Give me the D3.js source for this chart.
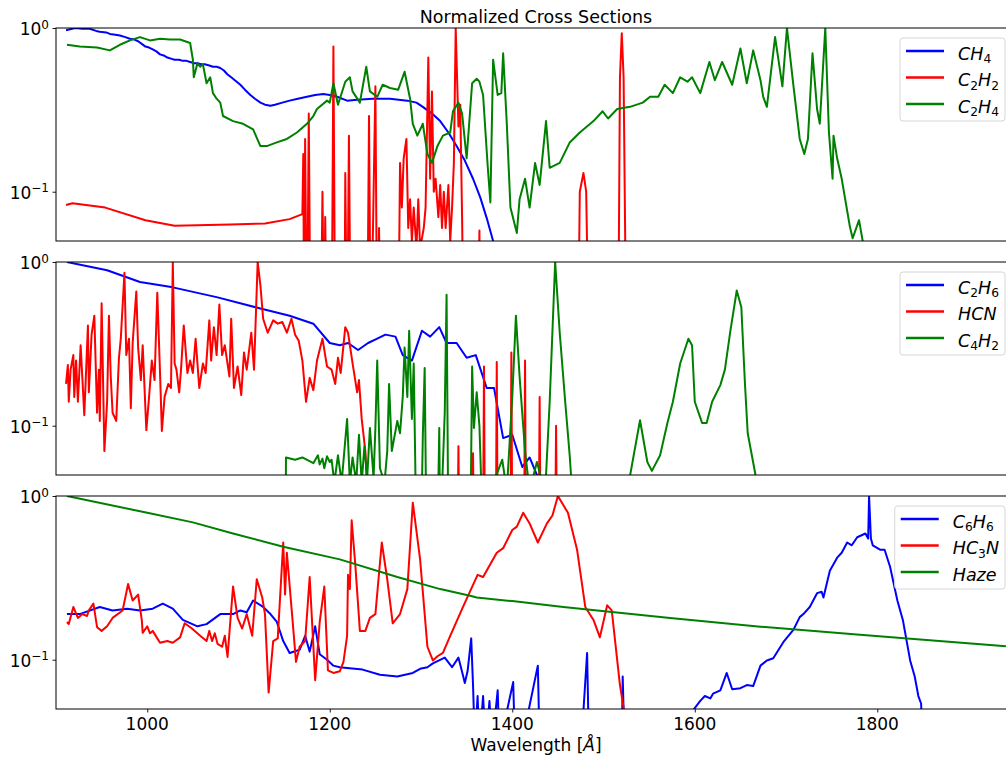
<!DOCTYPE html>
<html><head><meta charset="utf-8">
<script src="https://cdn.jsdelivr.net/npm/d3@7"></script>
<style>
body{margin:0;background:#fff;}
text{font-family:"DejaVu Sans",sans-serif;fill:#000;}
</style>
</head><body>
<svg id="c" width="1006" height="758"></svg>
<script>
// ---------------- DATA ([wavelength Å, normalized cross section]) ----------------
const titleText = "Normalized Cross Sections";
const xLabel = "Wavelength [";
const xTicks = [1000, 1200, 1400, 1600, 1800];
const yTicks = [1, 0.1];
const yTickLabels = [["10","0"],["10","\u22121"]];

const ch4 = [[911,0.97],[921,1.0],[929,0.99],[937,0.99],[944,0.96],[948,0.95],[955,0.94],[959,0.92],[965,0.91],[970,0.90],[976,0.88],[981,0.86],[986,0.85],[990,0.83],[994,0.80],[998,0.77],[1002,0.76],[1006,0.74],[1010,0.72],[1014,0.69],[1018,0.68],[1022,0.66],[1026,0.65],[1030,0.64],[1035,0.64],[1039,0.63],[1043,0.63],[1047,0.62],[1051,0.61],[1055,0.61],[1059,0.60],[1063,0.60],[1068,0.59],[1072,0.58],[1076,0.58],[1080,0.57],[1084,0.55],[1088,0.52],[1092,0.50],[1096,0.48],[1102,0.45],[1107,0.42],[1113,0.39],[1118,0.37],[1124,0.35],[1129,0.34],[1135,0.335],[1140,0.34],[1148,0.35],[1156,0.36],[1165,0.37],[1175,0.38],[1184,0.39],[1193,0.395],[1200,0.39],[1208,0.38],[1219,0.36],[1230,0.365],[1247,0.37],[1266,0.37],[1285,0.36],[1295,0.35],[1302,0.33],[1312,0.30],[1321,0.27],[1330,0.23],[1339,0.19],[1348,0.155],[1357,0.12],[1365,0.092],[1372,0.069],[1379,0.05],[1390,0.03],[1398,0.02]];

const c2h2 = [[911,0.083],[918,0.085],[954,0.080],[998,0.067],[1030,0.062],[1091,0.063],[1129,0.064],[1156,0.068],[1170,0.073],[1171,0.17],[1172,0.01],[1173,0.21],[1175,0.01],[1177,0.30],[1179,0.01],[1190,0.01],[1192,0.10],[1194,0.01],[1195,0.07],[1197,0.01],[1202,0.01],[1204,0.77],[1206,0.01],[1216,0.01],[1217,0.13],[1219,0.01],[1221,0.22],[1223,0.01],[1241,0.01],[1243,0.29],[1245,0.01],[1250,0.44],[1252,0.01],[1254,0.06],[1256,0.01],[1275,0.01],[1277,0.15],[1279,0.08],[1281,0.16],[1284,0.21],[1286,0.06],[1288,0.09],[1290,0.05],[1292,0.08],[1295,0.045],[1297,0.09],[1299,0.045],[1303,0.06],[1305,0.08],[1308,0.66],[1310,0.12],[1312,0.41],[1314,0.10],[1316,0.12],[1319,0.07],[1321,0.11],[1323,0.06],[1325,0.10],[1327,0.06],[1330,0.11],[1332,0.05],[1334,0.08],[1336,0.15],[1338,1.0],[1341,0.25],[1343,0.34],[1345,0.07],[1347,0.01],[1362,0.01],[1364,0.058],[1365,0.01],[1472,0.01],[1474,0.10],[1478,0.13],[1481,0.10],[1484,0.01],[1516,0.01],[1518,0.5],[1520,0.93],[1522,0.5],[1525,0.01]];

const c2h4 = [[912,0.79],[926,0.77],[945,0.76],[959,0.73],[970,0.79],[981,0.84],[992,0.88],[1003,0.84],[1014,0.86],[1025,0.85],[1036,0.85],[1047,0.81],[1050,0.64],[1051,0.50],[1055,0.61],[1058,0.58],[1061,0.60],[1065,0.46],[1069,0.50],[1072,0.40],[1076,0.37],[1080,0.35],[1083,0.29],[1094,0.27],[1105,0.26],[1116,0.24],[1124,0.19],[1131,0.19],[1142,0.20],[1153,0.21],[1164,0.23],[1175,0.26],[1182,0.29],[1186,0.32],[1197,0.36],[1200,0.35],[1204,0.46],[1209,0.34],[1217,0.47],[1222,0.50],[1225,0.41],[1233,0.35],[1240,0.58],[1244,0.41],[1252,0.38],[1258,0.45],[1266,0.43],[1275,0.42],[1282,0.54],[1288,0.37],[1291,0.26],[1296,0.22],[1302,0.26],[1307,0.17],[1312,0.15],[1318,0.19],[1324,0.22],[1332,0.23],[1335,0.31],[1341,0.35],[1345,0.30],[1350,0.16],[1356,0.46],[1361,0.49],[1364,0.47],[1368,0.39],[1373,0.145],[1376,0.086],[1379,0.64],[1384,0.39],[1388,0.40],[1390,0.70],[1394,0.26],[1398,0.08],[1405,0.056],[1408,0.09],[1414,0.12],[1419,0.08],[1425,0.15],[1430,0.11],[1437,0.27],[1441,0.14],[1452,0.15],[1463,0.20],[1474,0.23],[1489,0.27],[1499,0.31],[1505,0.28],[1515,0.32],[1529,0.33],[1543,0.35],[1551,0.38],[1560,0.38],[1567,0.45],[1576,0.40],[1584,0.50],[1592,0.47],[1597,0.50],[1606,0.40],[1616,0.62],[1622,0.48],[1630,0.62],[1641,0.45],[1650,0.75],[1657,0.46],[1664,0.73],[1672,0.48],[1675,0.38],[1679,0.33],[1688,0.88],[1696,0.44],[1701,1.0],[1708,0.45],[1715,0.21],[1720,0.17],[1724,0.21],[1729,0.70],[1734,0.32],[1737,0.26],[1743,1.0],[1747,0.23],[1751,0.12],[1752,0.22],[1756,0.16],[1761,0.12],[1770,0.061],[1773,0.052],[1780,0.067],[1784,0.05],[1790,0.03]];

const c2h6 = [[912,1.0],[956,0.89],[992,0.755],[1028,0.70],[1076,0.61],[1124,0.52],[1156,0.47],[1182,0.42],[1200,0.32],[1211,0.31],[1220,0.32],[1231,0.29],[1242,0.32],[1252,0.34],[1261,0.36],[1272,0.35],[1280,0.27],[1290,0.25],[1301,0.38],[1310,0.35],[1320,0.40],[1328,0.32],[1339,0.32],[1350,0.26],[1360,0.27],[1372,0.17],[1380,0.17],[1390,0.084],[1400,0.088],[1411,0.056],[1419,0.064],[1427,0.05],[1435,0.03]];

const hcn = [[911,0.18],[913,0.235],[914,0.14],[916,0.22],[919,0.27],[920,0.15],[922,0.25],[924,0.14],[927,0.31],[931,0.116],[935,0.41],[936,0.16],[939,0.36],[942,0.47],[945,0.12],[947,0.22],[948,0.107],[950,0.56],[953,0.07],[956,0.14],[958,0.47],[960,0.20],[962,0.12],[966,0.107],[969,0.26],[971,0.34],[975,0.86],[977,0.27],[980,0.34],[982,0.128],[984,0.32],[988,0.66],[990,0.30],[993,0.19],[995,0.31],[999,0.094],[1002,0.15],[1005,0.25],[1008,0.19],[1011,0.65],[1014,0.21],[1016,0.093],[1019,0.15],[1023,0.18],[1026,0.17],[1028,1.0],[1030,0.24],[1032,0.22],[1035,0.16],[1037,0.22],[1040,0.41],[1044,0.21],[1047,0.25],[1050,0.21],[1053,0.34],[1057,0.17],[1061,0.24],[1064,0.21],[1068,0.44],[1070,0.25],[1073,0.40],[1076,0.27],[1079,0.55],[1082,0.27],[1085,0.31],[1090,0.20],[1092,0.45],[1095,0.17],[1099,0.23],[1103,0.154],[1106,0.28],[1109,0.22],[1114,0.37],[1117,0.22],[1121,1.0],[1124,0.72],[1127,0.45],[1132,0.37],[1138,0.44],[1143,0.42],[1148,0.43],[1153,0.37],[1158,0.45],[1162,0.36],[1166,0.33],[1170,0.25],[1174,0.14],[1178,0.196],[1182,0.165],[1186,0.25],[1192,0.34],[1197,0.23],[1202,0.22],[1206,0.18],[1209,0.26],[1212,0.21],[1217,0.40],[1220,0.37],[1225,0.24],[1230,0.16],[1232,0.19],[1235,0.11],[1239,0.07],[1241,0.04],[1250,0.02],[1340,0.02],[1341,0.075],[1342,0.02],[1356,0.02],[1357,0.068],[1358,0.02],[1368,0.02],[1369,0.23],[1370,0.02],[1382,0.02],[1383,0.245],[1384,0.02],[1398,0.02],[1399,0.28],[1400,0.02],[1413,0.02],[1414,0.25],[1415,0.02],[1429,0.02],[1430,0.15],[1431,0.02],[1447,0.02],[1448,0.10],[1449,0.02]];

const c4h2 = [[1151,0.001],[1152,0.064],[1162,0.062],[1170,0.064],[1182,0.059],[1187,0.066],[1189,0.058],[1192,0.063],[1194,0.055],[1197,0.065],[1200,0.06],[1202,0.062],[1205,0.045],[1209,0.066],[1213,0.045],[1219,0.11],[1222,0.045],[1225,0.064],[1229,0.045],[1232,0.088],[1235,0.045],[1238,0.075],[1241,0.048],[1244,0.097],[1248,0.048],[1250,0.097],[1252,0.25],[1255,0.055],[1260,0.045],[1263,0.07],[1265,0.18],[1268,0.07],[1274,0.107],[1277,0.09],[1280,0.15],[1282,0.30],[1285,0.15],[1287,0.38],[1290,0.11],[1292,0.24],[1295,0.02],[1300,0.02],[1302,0.088],[1304,0.225],[1306,0.02],[1318,0.02],[1320,0.097],[1321,0.02],[1326,0.12],[1328,0.63],[1330,0.02],[1354,0.02],[1356,0.23],[1358,0.097],[1361,0.16],[1364,0.10],[1368,0.02],[1376,0.04],[1389,0.062],[1394,0.04],[1400,0.15],[1404,0.47],[1408,0.2],[1414,0.07],[1419,0.04],[1427,0.06],[1433,0.045],[1437,0.05],[1441,0.14],[1447,1.0],[1452,0.37],[1458,0.14],[1463,0.065],[1467,0.03],[1522,0.03],[1540,0.108],[1548,0.06],[1553,0.053],[1562,0.066],[1570,0.104],[1576,0.14],[1584,0.24],[1593,0.34],[1597,0.31],[1600,0.14],[1608,0.104],[1613,0.104],[1619,0.14],[1628,0.177],[1633,0.22],[1639,0.38],[1646,0.67],[1651,0.53],[1655,0.18],[1658,0.09],[1666,0.052],[1672,0.03]];

const c6h6 = [[912,0.19],[926,0.19],[948,0.21],[962,0.20],[978,0.205],[992,0.20],[1006,0.205],[1017,0.22],[1028,0.205],[1039,0.175],[1055,0.16],[1065,0.165],[1080,0.19],[1094,0.19],[1102,0.20],[1109,0.195],[1116,0.23],[1127,0.21],[1135,0.19],[1142,0.17],[1149,0.13],[1156,0.11],[1167,0.115],[1173,0.14],[1178,0.112],[1184,0.16],[1189,0.108],[1197,0.10],[1204,0.092],[1211,0.09],[1219,0.089],[1236,0.087],[1255,0.081],[1274,0.079],[1291,0.083],[1299,0.088],[1307,0.09],[1313,0.095],[1326,0.103],[1334,0.09],[1341,0.103],[1346,0.08],[1348,0.072],[1351,0.085],[1355,0.135],[1357,0.07],[1359,0.03],[1362,0.06],[1364,0.03],[1368,0.06],[1371,0.03],[1375,0.056],[1378,0.03],[1384,0.065],[1386,0.03],[1401,0.073],[1403,0.03],[1408,0.045],[1410,0.03],[1428,0.092],[1430,0.03],[1477,0.04],[1482,0.11],[1484,0.03],[1520,0.03],[1521,0.079],[1523,0.03],[1590,0.03],[1598,0.049],[1606,0.056],[1611,0.06],[1617,0.058],[1620,0.062],[1628,0.065],[1635,0.083],[1641,0.066],[1650,0.067],[1657,0.07],[1664,0.069],[1672,0.092],[1679,0.099],[1686,0.102],[1697,0.128],[1708,0.152],[1715,0.182],[1719,0.19],[1726,0.21],[1734,0.255],[1739,0.26],[1741,0.24],[1748,0.35],[1756,0.42],[1761,0.45],[1767,0.52],[1772,0.50],[1778,0.56],[1787,0.59],[1790,0.55],[1791,1.0],[1793,0.55],[1795,0.50],[1803,0.47],[1808,0.47],[1814,0.37],[1822,0.23],[1828,0.175],[1836,0.099],[1841,0.079],[1845,0.06],[1848,0.054],[1850,0.03]];

const hc3n = [[912,0.17],[914,0.165],[919,0.21],[924,0.18],[929,0.19],[934,0.185],[936,0.20],[941,0.22],[945,0.158],[950,0.15],[956,0.16],[962,0.18],[973,0.20],[979,0.29],[984,0.23],[990,0.25],[994,0.175],[995,0.146],[1000,0.16],[1003,0.145],[1006,0.15],[1011,0.135],[1014,0.127],[1022,0.13],[1028,0.127],[1036,0.137],[1041,0.167],[1049,0.155],[1058,0.14],[1065,0.13],[1068,0.15],[1071,0.13],[1074,0.145],[1077,0.125],[1082,0.12],[1085,0.14],[1088,0.104],[1094,0.28],[1099,0.18],[1104,0.155],[1109,0.19],[1115,0.14],[1120,0.31],[1126,0.24],[1129,0.19],[1133,0.063],[1138,0.13],[1143,0.135],[1149,0.52],[1151,0.25],[1153,0.45],[1159,0.18],[1163,0.097],[1167,0.12],[1173,0.13],[1178,0.32],[1184,0.075],[1189,0.17],[1194,0.28],[1198,0.086],[1204,0.083],[1211,0.085],[1215,0.097],[1219,0.14],[1220,0.33],[1222,0.27],[1224,0.71],[1228,0.38],[1233,0.15],[1239,0.15],[1244,0.18],[1250,0.19],[1257,0.52],[1263,0.31],[1269,0.167],[1277,0.19],[1285,0.27],[1291,0.91],[1299,0.41],[1307,0.12],[1313,0.099],[1318,0.105],[1324,0.11],[1332,0.14],[1346,0.21],[1362,0.33],[1368,0.32],[1383,0.45],[1390,0.48],[1400,0.62],[1405,0.65],[1412,0.79],[1419,0.68],[1428,0.52],[1438,0.68],[1444,0.76],[1450,1.0],[1461,0.79],[1471,0.47],[1480,0.21],[1489,0.175],[1496,0.137],[1504,0.215],[1509,0.20],[1518,0.07],[1525,0.04]];

const haze = [[912,1.0],[1000,0.79],[1050,0.69],[1094,0.59],[1149,0.49],[1211,0.41],[1274,0.32],[1321,0.27],[1355,0.245],[1361,0.24],[1400,0.228],[1456,0.21],[1573,0.18],[1672,0.159],[1781,0.142],[1941,0.121]];

const panelLabels = [["CH4","C2H2","C2H4"],["C2H6","HCN","C4H2"],["C6H6","HC3N","Haze"]];
const panelSeries = [[ch4,c2h2,c2h4],[c2h6,hcn,c4h2],[c6h6,hc3n,haze]];
const colors = ["#0000ff","#ff0000","#008000"];

// ---------------- LAYOUT ----------------
const svg = d3.select("#c");
const left = 56, right = 1016, ph = 213;
const tops = [28, 262, 496];
const x = d3.scaleLinear().domain([900, 1952]).range([left, right]);

svg.append("text").attr("x", 536).attr("y", 23).attr("text-anchor","middle")
  .style("font-size","17.5px").text(titleText);

function mathLabel(sel, label, size){
  // letters italic, digits as upright subscripts
  const parts = label.match(/[A-Za-z]+|\d+/g);
  let prevSub = false;
  parts.forEach(p=>{
    if(/\d/.test(p)){
      sel.append("tspan").attr("dy", 3.5).style("font-size",(size*0.7)+"px").style("font-style","normal").text(p);
      prevSub = true;
    } else {
      sel.append("tspan").attr("dy", prevSub ? -3.5 : 0).style("font-style","italic").style("font-size",size+"px").text(p);
      prevSub = false;
    }
  });
}

tops.forEach((top, pi)=>{
  const y = d3.scaleLog().domain([0.05, 1]).range([top + ph, top]);
  const g = svg.append("g");
  const cid = "clip"+pi;
  svg.append("clipPath").attr("id", cid).append("rect")
    .attr("x", left).attr("y", top).attr("width", right-left).attr("height", ph);

  const line = d3.line().x(d=>x(d[0])).y(d=>y(d[1]));
  const lg = g.append("g").attr("clip-path", `url(#${cid})`);
  panelSeries[pi].forEach((s, si)=>{
    lg.append("path").datum(s).attr("d", line).attr("fill","none")
      .attr("stroke", colors[si]).attr("stroke-width", 2).attr("stroke-linejoin","round");
  });

  // spines
  g.append("rect").attr("x", left).attr("y", top).attr("width", right-left).attr("height", ph)
    .attr("fill","none").attr("stroke","#000").attr("stroke-width",1);

  // y axis ticks
  const yax = g.append("g").attr("transform", `translate(${left},0)`)
    .call(d3.axisLeft(y).tickValues(yTicks).tickSize(3.5).tickFormat(""));
  yax.select(".domain").remove();
  yax.selectAll("line").attr("stroke","#000").attr("stroke-width",0.9);
  yTicks.forEach((v, i)=>{
    const t = g.append("text").attr("x", 49).attr("y", y(v)+7).attr("text-anchor","end")
      .style("font-size","17px");
    t.append("tspan").text(yTickLabels[i][0]);
    t.append("tspan").attr("dy", -6.5).style("font-size","12px").text(yTickLabels[i][1]);
  });

  // legend
  const labels = panelLabels[pi];
  const lgd = g.append("g");
  const box = lgd.append("rect");
  const texts = [];
  const ltop = top + 10;
  labels.forEach((lab, i)=>{
    const ly = ltop + 13 + i*26.5;
    const t = lgd.append("text").attr("y", ly + 8.5);
    mathLabel(t, lab, 17.5);
    texts.push({t, ly});
  });
  const tw = d3.max(texts, d=>d.t.node().getComputedTextLength());
  const bw = 6 + 38 + 14 + tw + 6;
  const bx = 1005 - bw;
  box.attr("x", bx).attr("y", ltop).attr("width", bw).attr("height", 83)
    .attr("rx", 3).attr("fill","#fff").attr("fill-opacity",0.8)
    .attr("stroke","#d6d6d6").attr("stroke-width",1);
  texts.forEach((d, i)=>{
    d.t.attr("x", bx + 58);
    lgd.append("line").attr("x1", bx+6).attr("x2", bx+44).attr("y1", d.ly).attr("y2", d.ly)
      .attr("stroke", colors[i]).attr("stroke-width", 2.5);
  });

  if(pi === 2){
    const xax = g.append("g").attr("transform", `translate(0,${top+ph})`)
      .call(d3.axisBottom(x).tickValues(xTicks).tickSize(3.5).tickFormat(""));
    xax.select(".domain").remove();
    xax.selectAll("line").attr("stroke","#000").attr("stroke-width",0.9);
    xTicks.forEach(v=>{
      g.append("text").attr("x", x(v)).attr("y", 730).attr("text-anchor","middle")
        .style("font-size","17px").text(v);
    });
    const xl = g.append("text").attr("x", 536).attr("y", 751).attr("text-anchor","middle")
      .style("font-size","17px");
    xl.append("tspan").text(xLabel);
    xl.append("tspan").style("font-style","italic").text("\u00C5");
    xl.append("tspan").text("]");
  }
});
</script>
</body></html>
